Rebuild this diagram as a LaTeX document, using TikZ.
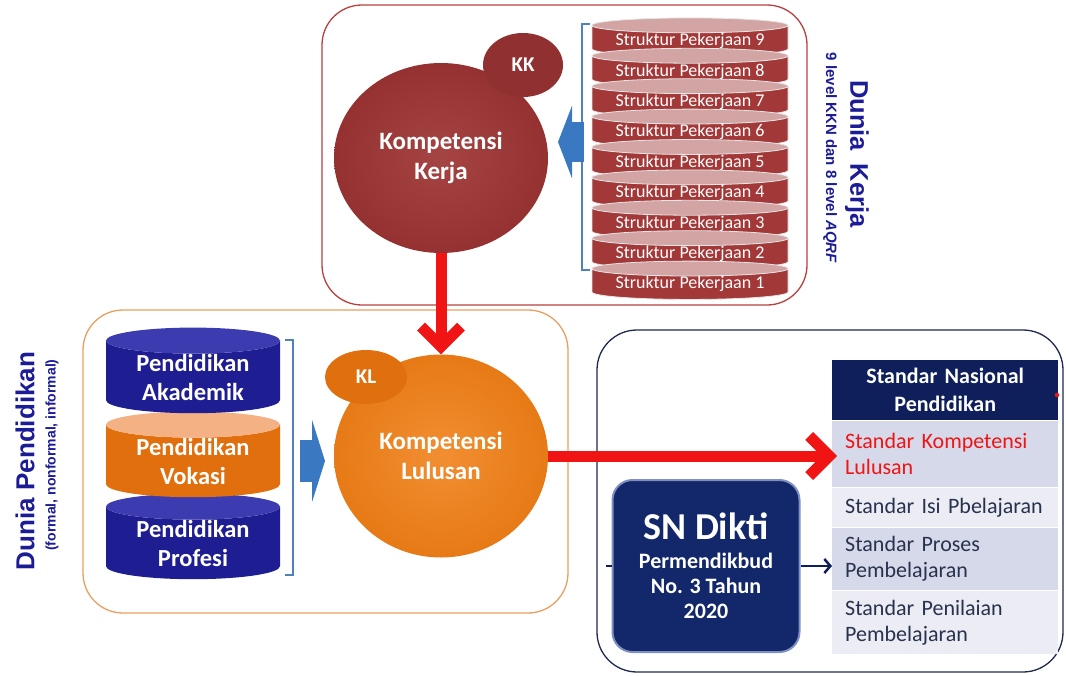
\documentclass[tikz,border=0pt]{standalone}
\usepackage{fontspec}
\setmainfont{Carlito}
\newfontfamily\arialfont{Liberation Sans}
\usetikzlibrary{arrows.meta,positioning,shapes.geometric,calc}
\definecolor{KerjaRed}{HTML}{9E3434}
\definecolor{KerjaEdge}{HTML}{B8403D}
\definecolor{DiscRed}{HTML}{A33838}
\definecolor{DiscTop}{HTML}{D2A4A4}
\definecolor{LulusOrange}{HTML}{F07F16}
\definecolor{KLOrange}{HTML}{E0700E}
\definecolor{FrameOrange}{HTML}{E8A060}
\definecolor{EduBlue}{HTML}{1E1E92}
\definecolor{EduBlueTop}{HTML}{3C3CB0}
\definecolor{VokBody}{HTML}{E26F0E}
\definecolor{VokTop}{HTML}{F4B183}
\definecolor{BlockBlue}{HTML}{3B78C2}
\definecolor{BracketBlue}{HTML}{4F81BD}
\definecolor{ArrRed}{HTML}{F01414}
\definecolor{NavyHead}{HTML}{0E1F5B}
\definecolor{RowDark}{HTML}{D6D9EA}
\definecolor{RowLight}{HTML}{EBECF4}
\definecolor{RowText}{HTML}{28324E}
\definecolor{SNNavy}{HTML}{13286B}
\definecolor{SNEdge}{HTML}{7F8FC0}
\definecolor{FrameNavy}{HTML}{1F2850}
\definecolor{DuniaBlue}{HTML}{1C1C96}

\begin{document}
\begin{tikzpicture}[x=1pt, y=-1pt,
    frame/.style={rounded corners=40pt, line width=1.3pt, inner sep=0pt},
    bigcirc/.style={ellipse, inner sep=0pt, text=white, align=center, font=\fontsize{25}{30}\selectfont\bfseries},
    tag/.style={ellipse, inner sep=0pt, text=white, font=\fontsize{21}{24}\selectfont\bfseries},
    disc/.style={cylinder, shape border rotate=90, shape aspect=0.1, minimum width=196pt, minimum height=28pt, inner sep=0pt,
        cylinder uses custom fill, cylinder body fill=DiscRed, cylinder end fill=DiscTop, draw=white!80!gray, line width=0.8pt,
        text=white, font=\fontsize{18}{20}\selectfont},
    edu/.style={cylinder, shape border rotate=90, shape aspect=0.23, minimum width=174pt, minimum height=78pt, inner sep=0pt,
        cylinder uses custom fill, text=white, align=center, font=\fontsize{24.5}{29}\selectfont\bfseries},
    bracket/.style={draw=BracketBlue, line width=1.5pt},
    blockarr/.style={draw=BlockBlue, -{Triangle[length=14pt, width=72pt]}},
    redarr/.style={draw=ArrRed, line width=11pt, -{Straight Barb[length=20pt, width=40pt]}},
    navyarr/.style={draw=NavyHead, line width=2.5pt, -{Straight Barb[length=6pt, width=14pt]}},
    row/.style={anchor=north west, minimum width=226pt, inner xsep=13pt, inner ysep=0pt, text width=200pt, align=left,
        text=RowText, font=\fontsize{22}{26}\selectfont},
    dunia/.style={text=DuniaBlue, align=center}
]
\useasboundingbox (0,0) rectangle (1066,675);

% frames
\node[frame, draw=KerjaEdge, minimum width=485pt, minimum height=300pt] (kerja) at (564.5,155) {};
\node[frame, draw=FrameOrange, minimum width=485pt, minimum height=303pt] (didik) at (325.5,461.5) {};
\node[frame, draw=FrameNavy, minimum width=466pt, minimum height=342pt] (snp) at (830,501) {};

% dunia kerja
\node[bigcirc, inner color=KerjaRed!92!white, outer color=KerjaRed!94!black, minimum width=214pt, minimum height=190pt] (kk) at (441,158) {Kompetensi\\Kerja};
\node[tag, fill=KerjaRed!92!black, minimum width=80pt, minimum height=64pt] (kktag) at (523,65) {KK};
\foreach \k in {9,...,1}{
  \node[disc] (s\k) at (690,{41+30.4*(9-\k)}) {Struktur Pekerjaan \k};
}
\coordinate (b1t) at (582,24);
\coordinate (b1b) at (582,270);
\draw[bracket] ([xshift=8pt]b1t) -- (b1t) -- (b1b) -- ([xshift=8pt]b1b);
\coordinate (a1s) at (584,142);
\coordinate (a1e) at (558,142);
\draw[blockarr, line width=40pt] (a1s) -- (a1e);
\node[dunia, rotate=-90, font=\arialfont\fontsize{25.5}{28}\selectfont\bfseries] (dk) at (857,154) {Dunia\enspace Kerja};
\node[dunia, rotate=-90, font=\arialfont\fontsize{15}{17}\selectfont\bfseries] (dksub) at (830,158) {9 level KKN dan 8 level \textit{AQRF}};

% dunia pendidikan
\node[edu, cylinder body fill=EduBlue, cylinder end fill=EduBlueTop] (prof) at (193,543) {Pendidikan\\Profesi};
\node[edu, cylinder body fill=VokBody, cylinder end fill=VokTop] (vok) at (193,461) {Pendidikan\\Vokasi};
\node[edu, cylinder body fill=EduBlue, cylinder end fill=EduBlueTop] (akad) at (193,377) {Pendidikan\\Akademik};
\coordinate (b2t) at (293,340);
\coordinate (b2b) at (293,575);
\draw[bracket] ([xshift=-8pt]b2t) -- (b2t) -- (b2b) -- ([xshift=-8pt]b2b);
\coordinate (a2s) at (300,461);
\coordinate (a2e) at (325,461);
\draw[blockarr, line width=42pt, -{Triangle[length=13pt, width=82pt]}] (a2s) -- (a2e);
\node[bigcirc, inner color=LulusOrange!88!white, outer color=LulusOrange!96!black, minimum width=214pt, minimum height=203pt] (kl) at (441,456) {Kompetensi\\Lulusan};
\node[tag, fill=KLOrange, minimum width=82pt, minimum height=54pt] (kltag) at (366,377) {KL};
\node[dunia, rotate=90, font=\arialfont\fontsize{26}{28}\selectfont\bfseries] (dp) at (25,461) {Dunia Pendidikan};
\node[dunia, rotate=90, font=\arialfont\fontsize{14}{16}\selectfont\bfseries] (dpsub) at (52,455) {(formal, nonformal, informal)};

% standar nasional
\node[row, fill=NavyHead, minimum height=60pt, text=white, align=center, font=\fontsize{22}{28}\selectfont\bfseries] (snh) at (832,360) {Standar Nasional\\Pendidikan};
\node[row, fill=RowDark, minimum height=66pt, text=ArrRed] (skl) at (832,421) {Standar Kompetensi\\Lulusan};
\node[row, fill=RowLight, minimum height=39pt] (isi) at (832,488) {Standar Isi Pbelajaran};
\node[row, fill=RowDark, minimum height=62pt] (proses) at (832,528) {Standar Proses\\Pembelajaran};
\node[row, fill=RowLight, minimum height=63pt] (nilai) at (832,591) {Standar Penilaian\\Pembelajaran};
\node[circle, fill=ArrRed, inner sep=1.6pt] (dot) at (1057,395) {};
\node[draw=SNEdge, line width=2pt, fill=SNNavy, rounded corners=20pt, minimum width=187pt, minimum height=172pt,
      text=white, align=center, font=\fontsize{22}{25}\selectfont\bfseries] (sn) at (706,566)
      {{\fontsize{38}{40}\selectfont SN Dikti}\\[4pt]Permendikbud\\No. 3 Tahun\\2020};
\coordinate (snstub) at (606,566);
\draw[draw=NavyHead, line width=2.5pt] (snstub) -- (sn.west);
\draw[navyarr] (sn.east) -- (sn.east -| proses.west);

% red arrows
\draw[redarr] (kk.south) -- (kl.north);
\draw[redarr, shorten >=-5pt] (kl.east) -- (kl.east -| skl.west);
\end{tikzpicture}
\end{document}
